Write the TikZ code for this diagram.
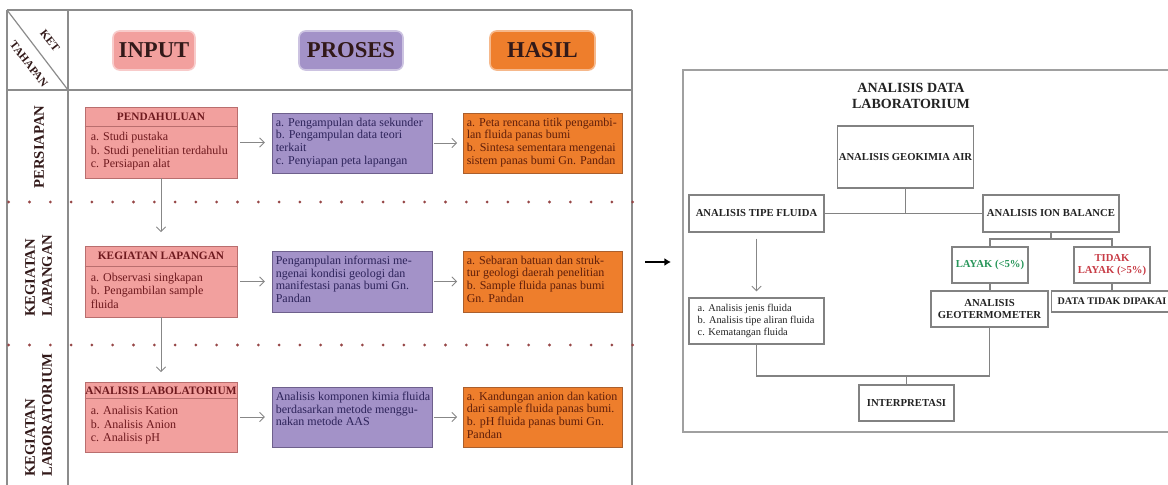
\documentclass[tikz,border=0pt]{standalone}
\usepackage{fontspec}
\setmainfont{Liberation Serif}
\usetikzlibrary{arrows.meta,calc}
\definecolor{pinkF}{RGB}{242,160,158}
\definecolor{pinkD}{RGB}{185,110,110}
\definecolor{pinkT}{RGB}{110,25,30}
\definecolor{purpF}{RGB}{163,146,200}
\definecolor{purpD}{RGB}{110,96,140}
\definecolor{purpT}{RGB}{45,35,90}
\definecolor{orF}{RGB}{238,126,44}
\definecolor{orD}{RGB}{170,95,45}
\definecolor{orT}{RGB}{95,30,10}
\definecolor{hdrT}{RGB}{50,25,25}
\definecolor{lineG}{RGB}{140,140,140}
\definecolor{arrG}{RGB}{135,135,135}
\definecolor{boxG}{RGB}{130,130,130}
\definecolor{frameG}{RGB}{160,160,160}
\definecolor{textD}{RGB}{35,35,35}
\definecolor{dotC}{RGB}{150,70,70}
\definecolor{layG}{RGB}{40,150,90}
\definecolor{tdkR}{RGB}{200,60,70}
\begin{document}
\begin{tikzpicture}[x=0.75pt,y=-0.75pt,
  tline/.style={draw=lineG, line width=0.9pt},
  hdr/.style={rounded corners=5pt, minimum height=39*0.75pt, inner sep=0pt, font=\fontsize{17}{20}\selectfont\bfseries, text=hdrT, line width=1.2pt},
  rowlab/.style={rotate=90, font=\fontsize{11}{12.75}\selectfont\bfseries, text=hdrT, align=left, inner sep=0pt},
  ketlab/.style={rotate=-52, font=\fontsize{8.5}{9}\selectfont\bfseries, text=hdrT, inner sep=0pt},
  inbox/.style={draw=pinkD, fill=pinkF, line width=0.7pt, minimum width=152*0.75pt, inner sep=0pt},
  prbox/.style={draw=purpD, fill=purpF, line width=0.7pt, minimum width=160*0.75pt, minimum height=60*0.75pt, inner sep=0pt},
  hsbox/.style={draw=orD, fill=orF, line width=0.7pt, minimum width=159*0.75pt, minimum height=60*0.75pt, inner sep=0pt},
  bodyt/.style={font=\fontsize{9}{9.6}\selectfont, align=left, inner sep=0pt},
  inbody/.style={font=\fontsize{9}{10.2}\selectfont, align=left, inner sep=0pt, text=pinkT, anchor=west},
  ttl/.style={font=\fontsize{8.5}{10}\selectfont\bfseries, text=pinkT, inner sep=0pt},
  garr/.style={draw=arrG, line width=0.7pt, -{Straight Barb[length=3.5pt,width=7pt]}},
  rbox/.style={draw=boxG, line width=0.8pt, inner sep=1pt, font=\fontsize{8}{9}\selectfont\bfseries, text=textD, align=center},
  conn/.style={draw=boxG, line width=0.8pt},
]
\clip (0,0) rectangle (1168,485);
\useasboundingbox (0,0) rectangle (1168,485);
\fill[white] (0,0) rectangle (1168,485);

% ---------- left table ----------
\draw[tline] (7,10) -- (632,10);
\draw[tline] (7,90) -- (632,90);
\draw[tline] (7,10) -- (7,485);
\draw[tline] (68,10) -- (68,485);
\draw[tline] (632,10) -- (632,485);
\draw[tline] (7,10) -- (68,90);
\foreach \k in {0,...,30} {
  \fill[dotC] (8.7+20.8*\k,202) circle (1.15pt);
  \fill[dotC] (8.7+20.8*\k,345) circle (1.15pt);
}

\node[ketlab] (ket) at (50,41) {KET};
\node[ketlab] (tah) at (29,64) {TAHAPAN};

\node[hdr, fill=pinkF, draw=pinkF!55!white, minimum width=82*0.75pt] (hin) at (154,50.5) {INPUT};
\node[hdr, fill=purpF, draw=purpF!55!white, minimum width=104*0.75pt] (hpr) at (351,50.5) {PROSES};
\node[hdr, fill=orF, draw=orF!55!white, minimum width=105*0.75pt] (hhs) at (542.5,50.5) {HASIL};

\node[rowlab] (l1) at (39,147) {PERSIAPAN};
\node[rowlab, anchor=west] (l2) at (38.5,317) {KEGIATAN\\LAPANGAN};
\node[rowlab, anchor=west] (l3) at (38.5,477) {KEGIATAN\\LABORATORIUM};

% row 1
\node[inbox, minimum height=71*0.75pt] (in1) at (161,142.5) {};
\draw[draw=pinkD, line width=0.7pt] ($(in1.north west)+(0,20)$) -- ($(in1.north east)+(0,20)$);
\node[ttl] (in1t) at ($(in1.north)+(0,10)$) {PENDAHULUAN};
\node[inbody] (in1b) at ($(in1.west)+(6,9)$) {a. Studi pustaka\\b. Studi penelitian terdahulu\\c. Persiapan alat};

\node[prbox] (pr1) at (352,143) {};
\node[bodyt, text=purpT, anchor=north west] (pr1b) at ($(pr1.north west)+(4,5)$) {a. Pengampulan data sekunder\\b. Pengampulan data teori\\terkait\\c. Penyiapan peta lapangan};

\node[hsbox] (hs1) at (542.5,143) {};
\node[bodyt, text=orT, anchor=north west] (hs1b) at ($(hs1.north west)+(4,5)$) {a. Peta rencana titik pengambi-\\lan fluida panas bumi\\b. Sintesa sementara mengenai\\sistem panas bumi Gn. Pandan};

% row 2
\node[inbox, minimum height=71*0.75pt] (in2) at (161,281.5) {};
\draw[draw=pinkD, line width=0.7pt] ($(in2.north west)+(0,21)$) -- ($(in2.north east)+(0,21)$);
\node[ttl] (in2t) at ($(in2.north)+(0,10.5)$) {KEGIATAN LAPANGAN};
\node[inbody] (in2b) at ($(in2.west)+(6,9)$) {a. Observasi singkapan\\b. Pengambilan sample\\fluida};

\node[prbox, minimum height=61*0.75pt] (pr2) at (352,281.5) {};
\node[bodyt, text=purpT, anchor=north west] (pr2b) at ($(pr2.north west)+(4,5)$) {Pengampulan informasi me-\\ngenai kondisi geologi dan\\manifestasi panas bumi Gn.\\Pandan};

\node[hsbox, minimum height=61*0.75pt] (hs2) at (542.5,281.5) {};
\node[bodyt, text=orT, anchor=north west] (hs2b) at ($(hs2.north west)+(4,5)$) {a. Sebaran batuan dan struk-\\tur geologi daerah penelitian\\b. Sample fluida panas bumi\\Gn. Pandan};

% row 3
\node[inbox, minimum height=70*0.75pt] (in3) at (161,417) {};
\draw[draw=pinkD, line width=0.7pt] ($(in3.north west)+(0,17)$) -- ($(in3.north east)+(0,17)$);
\node[ttl] (in3t) at ($(in3.north)+(0,9)$) {ANALISIS LABOLATORIUM};
\node[inbody] (in3b) at ($(in3.west)+(6,8.5)$) {a. Analisis Kation\\b. Analisis Anion\\c. Analisis pH};

\node[prbox] (pr3) at (352,417) {};
\node[bodyt, text=purpT, anchor=north west] (pr3b) at ($(pr3.north west)+(4,5)$) {Analisis komponen kimia fluida\\berdasarkan metode menggu-\\nakan metode AAS};

\node[hsbox] (hs3) at (542.5,417) {};
\node[bodyt, text=orT, anchor=north west] (hs3b) at ($(hs3.north west)+(4,5)$) {a. Kandungan anion dan kation\\dari sample fluida panas bumi.\\b. pH fluida panas bumi Gn.\\Pandan};

% arrows in table
\foreach \r in {1,2,3} {
  \draw[garr, shorten <=2pt, shorten >=5pt] (in\r.east) -- (in\r.east -| pr\r.west);
  \draw[garr, shorten <=1pt, shorten >=4pt] (pr\r.east) -- (pr\r.east -| hs\r.west);
}
\draw[garr, shorten >=10pt] (in1.south) -- (in2.north);
\draw[garr, shorten >=7pt] (in2.south) -- (in3.north);

% ---------- big arrow ----------
\coordinate (ba1) at (645,262);
\coordinate (ba2) at (671,262);
\draw[line width=1.6pt, -{Latex[length=5pt,width=6pt]}] (ba1) -- (ba2);

% ---------- right diagram ----------
\draw[draw=frameG, line width=0.9pt] (1180,70) -- (683,70) -- (683,432) -- (1180,432);

\node[font=\fontsize{10.5}{12}\selectfont\bfseries, align=center, text=textD, inner sep=0pt] (rtitle) at (911,96) {ANALISIS DATA\\LABORATORIUM};

\node[rbox, minimum width=135*0.75pt, minimum height=62*0.75pt] (geo) at (905.5,157) {ANALISIS GEOKIMIA AIR};
\node[rbox, minimum width=135*0.75pt, minimum height=37*0.75pt] (tipe) at (756.5,213.5) {ANALISIS TIPE FLUIDA};
\node[rbox, minimum width=136*0.75pt, minimum height=37*0.75pt] (ion) at (1051,213.5) {ANALISIS ION BALANCE};
\node[rbox, minimum width=76*0.75pt, minimum height=36*0.75pt, text=layG] (lay) at (990,265) {LAYAK (<5\%)};
\node[rbox, minimum width=76*0.75pt, minimum height=36*0.75pt, text=tdkR] (tdk) at (1112,265) {TIDAK\\LAYAK (>5\%)};
\node[rbox, minimum width=117*0.75pt, minimum height=36*0.75pt] (geot) at (989.5,309) {ANALISIS\\GEOTERMOMETER};
\node[rbox, minimum width=121*0.75pt, minimum height=21*0.75pt, font=\fontsize{7.6}{9}\selectfont\bfseries] (data) at (1112,301.5) {DATA TIDAK DIPAKAI};
\node[rbox, minimum width=135*0.75pt, minimum height=46*0.75pt] (list) at (756.5,321) {};
\node[font=\fontsize{7.8}{8.7}\selectfont, align=left, text=textD, inner sep=0pt, anchor=west] (listt) at ($(list.west)+(9,0)$) {a. Analisis jenis fluida\\b. Analisis tipe aliran fluida\\c. Kematangan fluida};
\node[rbox, minimum width=95*0.75pt, minimum height=36*0.75pt] (intp) at (906.5,403) {INTERPRETASI};

\draw[conn] (tipe.east) -- (ion.west);
\draw[conn] (geo.south) -- (geo.south |- tipe.east);
\coordinate (b1) at (1051,239);
\draw[conn] (ion.south) -- (b1);
\draw[conn] (lay.north) |- (b1) -| (tdk.north);
\draw[conn] (lay.south) -- (lay.south |- geot.north);
\draw[conn] (tdk.south) -- (tdk.south |- data.north);
\coordinate (b2) at (906.5,376);
\draw[conn] (list.south) |- (b2) -| (geot.south);
\draw[conn] (intp.north) -- (b2);
\draw[garr, shorten <=4.5pt, shorten >=4.5pt] (tipe.south) -- (list.north);
\end{tikzpicture}
\end{document}
